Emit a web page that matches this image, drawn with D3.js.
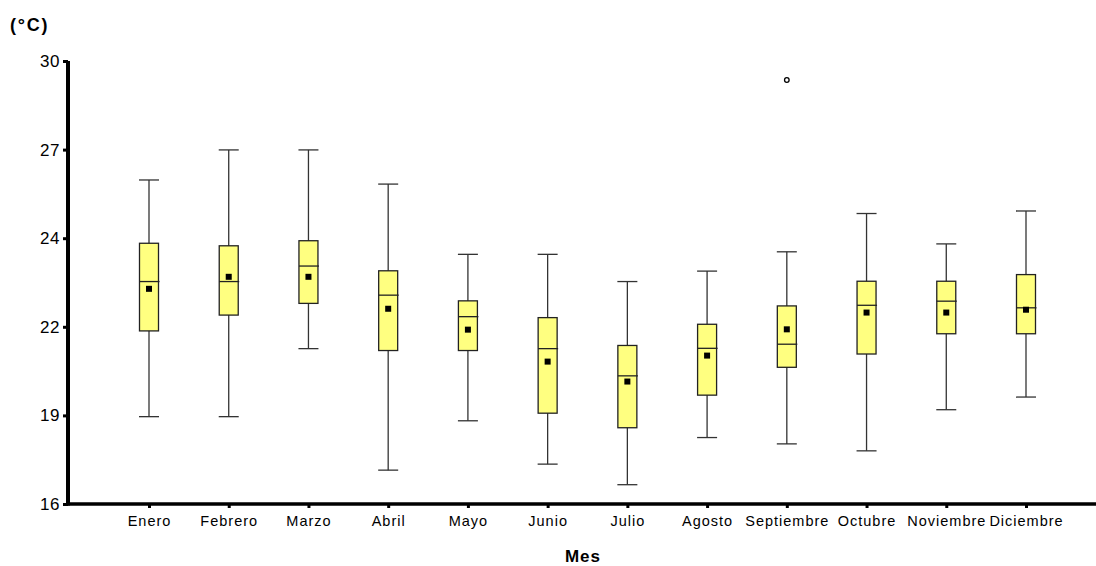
<!DOCTYPE html>
<html>
<head>
<meta charset="utf-8">
<script src="https://cdn.jsdelivr.net/npm/d3@7"></script>
<style>
  body { margin: 0; background: #fff; }
  svg { display: block; font-family: "Liberation Sans", Arial, sans-serif; }
</style>
</head>
<body>
<svg width="1096" height="566"></svg>
<script>
// months and box statistics
const months = ["Enero", "Febrero", "Marzo", "Abril", "Mayo", "Junio", "Julio", "Agosto", "Septiembre", "Octubre", "Noviembre", "Diciembre"];
const whiskerLow  = [18.76, 18.76, 20.91, 17.07, 18.63, 17.26, 16.61, 18.10, 17.90, 17.68, 18.98, 19.38];
const q1          = [21.47, 21.97, 22.34, 20.85, 20.85, 18.87, 18.41, 19.44, 20.32, 20.74, 21.38, 21.38];
const median      = [23.03, 23.03, 23.52, 22.60, 21.92, 20.91, 20.05, 20.92, 21.05, 22.28, 22.41, 22.20];
const q3          = [24.24, 24.16, 24.32, 23.37, 22.42, 21.89, 21.01, 21.68, 22.26, 23.04, 23.04, 23.25];
const whiskerHigh = [26.24, 27.19, 27.19, 26.11, 23.89, 23.89, 23.03, 23.36, 23.97, 25.18, 24.22, 25.26];
const mean        = [22.80, 23.18, 23.18, 22.17, 21.51, 20.50, 19.87, 20.69, 21.52, 22.05, 22.05, 22.14];
const outliers    = [{ month: "Septiembre", value: 29.4 }];

const yTickValues = [16, 18.8, 21.6, 24.4, 27.2, 30];
const yTickLabels = ["16", "19", "22", "24", "27", "30"];

const svg = d3.select("svg");
const plotLeft = 68, plotRight = 1096, plotTop = 61, plotBottom = 504;

const x = d3.scalePoint().domain(months).range([149, 1026]);
const y = d3.scaleLinear().domain([16, 30]).range([plotBottom, plotTop]);

const data = months.map((m, i) => ({
  month: m, lo: whiskerLow[i], q1: q1[i], med: median[i], q3: q3[i], hi: whiskerHigh[i], mean: mean[i]
}));

const boxW = 19, capW = 20;
const g = svg.append("g");

// whiskers
g.selectAll(".whisker").data(data).enter().append("line")
  .attr("x1", d => x(d.month)).attr("x2", d => x(d.month))
  .attr("y1", d => y(d.lo)).attr("y2", d => y(d.hi))
  .attr("stroke", "#333").attr("stroke-width", 1.3);

g.selectAll(".capLo").data(data).enter().append("line")
  .attr("x1", d => x(d.month) - capW / 2).attr("x2", d => x(d.month) + capW / 2)
  .attr("y1", d => y(d.lo)).attr("y2", d => y(d.lo))
  .attr("stroke", "#333").attr("stroke-width", 1.3);

g.selectAll(".capHi").data(data).enter().append("line")
  .attr("x1", d => x(d.month) - capW / 2).attr("x2", d => x(d.month) + capW / 2)
  .attr("y1", d => y(d.hi)).attr("y2", d => y(d.hi))
  .attr("stroke", "#333").attr("stroke-width", 1.3);

// boxes
g.selectAll(".box").data(data).enter().append("rect")
  .attr("x", d => x(d.month) - boxW / 2)
  .attr("y", d => y(d.q3))
  .attr("width", boxW)
  .attr("height", d => y(d.q1) - y(d.q3))
  .attr("fill", "#ffff80")
  .attr("stroke", "#222").attr("stroke-width", 1.3);

// medians
g.selectAll(".median").data(data).enter().append("line")
  .attr("x1", d => x(d.month) - boxW / 2).attr("x2", d => x(d.month) + boxW / 2 + 1)
  .attr("y1", d => y(d.med)).attr("y2", d => y(d.med))
  .attr("stroke", "#222").attr("stroke-width", 1.3);

// means
g.selectAll(".mean").data(data).enter().append("rect")
  .attr("x", d => x(d.month) - 3).attr("y", d => y(d.mean) - 3)
  .attr("width", 6).attr("height", 6)
  .attr("fill", "#000");

// outliers
g.selectAll(".outlier").data(outliers).enter().append("circle")
  .attr("cx", d => x(d.month)).attr("cy", d => y(d.value))
  .attr("r", 2.3)
  .attr("fill", "#fff").attr("stroke", "#000").attr("stroke-width", 1.3);

// y axis
const yAxis = svg.append("g")
  .attr("transform", `translate(${plotLeft},0)`)
  .call(d3.axisLeft(y).tickValues(yTickValues)
    .tickFormat((d, i) => yTickLabels[i]).tickSize(5).tickPadding(3).tickSizeOuter(0));
yAxis.select(".domain").remove();
yAxis.selectAll(".tick line").attr("stroke", "#000").attr("stroke-width", 3);
yAxis.selectAll(".tick text")
  .attr("fill", "#000").style("font-size", "17px").style("letter-spacing", "0.6px");

// x axis
const xAxis = svg.append("g")
  .attr("transform", `translate(0,${plotBottom})`)
  .call(d3.axisBottom(x).tickSize(4).tickPadding(8).tickSizeOuter(0));
xAxis.select(".domain").remove();
xAxis.selectAll(".tick line").attr("stroke", "#000").attr("stroke-width", 3);
xAxis.selectAll(".tick text")
  .attr("fill", "#000").style("font-size", "14.5px").style("letter-spacing", "1px");

// axis lines
svg.append("line").attr("x1", plotLeft).attr("x2", plotLeft).attr("y1", plotTop).attr("y2", plotBottom + 1.5)
  .attr("stroke", "#000").attr("stroke-width", 4);
svg.append("line").attr("x1", plotLeft - 2).attr("x2", plotRight).attr("y1", plotBottom).attr("y2", plotBottom)
  .attr("stroke", "#000").attr("stroke-width", 3.5);

// titles
svg.append("text").attr("x", 10).attr("y", 31)
  .style("font-size", "18px").style("font-weight", "bold").style("letter-spacing", "1.8px").text("(°C)");
svg.append("text").attr("x", 583).attr("y", 562).attr("text-anchor", "middle")
  .style("font-size", "17px").style("font-weight", "bold").style("letter-spacing", "1px").text("Mes");
</script>
</body>
</html>
